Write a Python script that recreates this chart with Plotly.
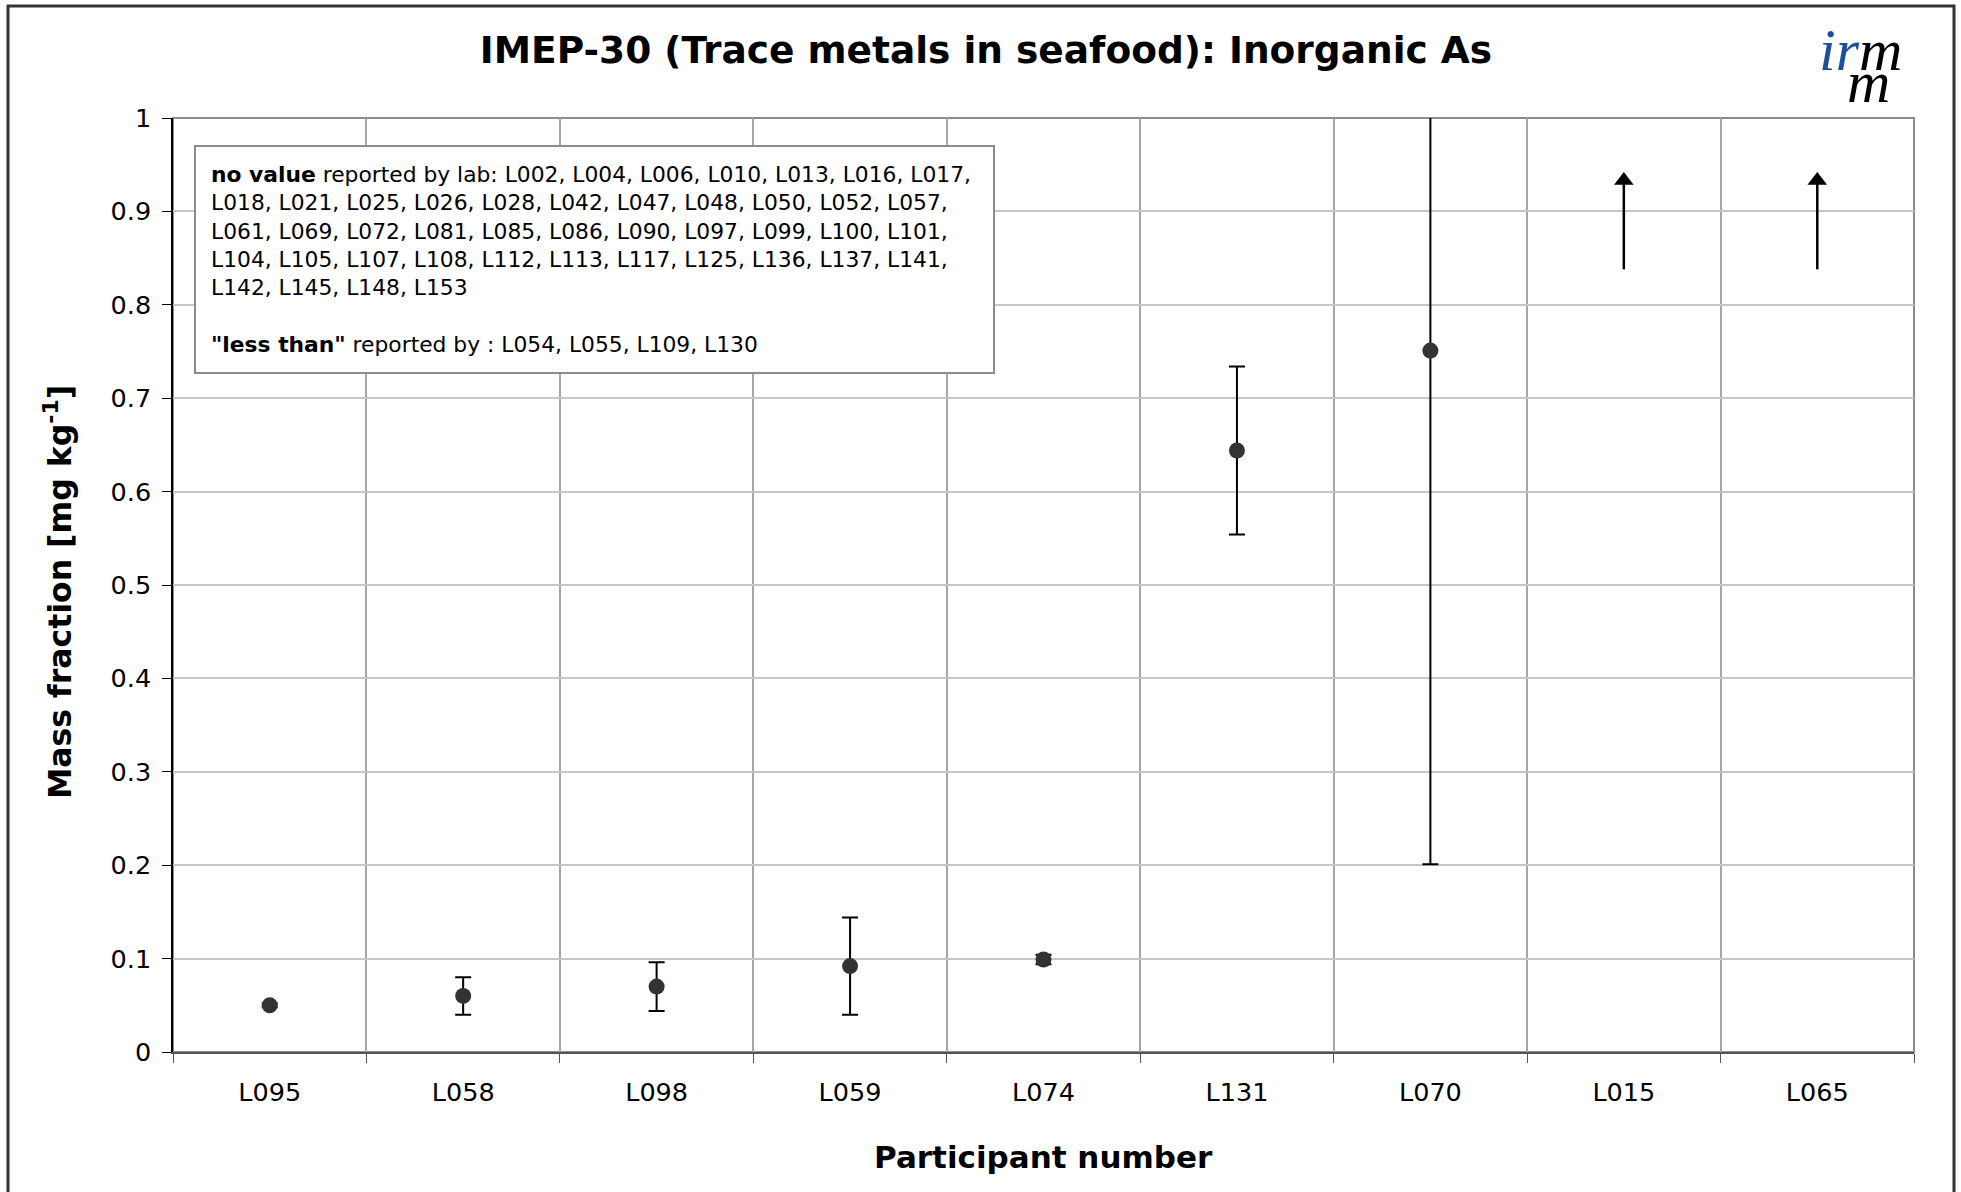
import plotly.graph_objects as go

# ---- data ----
participants = ["L095", "L058", "L098", "L059", "L074", "L131", "L070", "L015", "L065"]
reported_values = [0.050, 0.060, 0.070, 0.092, 0.099, 0.644, 0.751]   # first 7 labs
expanded_unc = [0.002, 0.020, 0.026, 0.052, 0.005, 0.090, 0.550]
offscale_labs = ["L015", "L065"]          # values above 1 mg/kg (shown with arrows)
arrow_tail = 0.838
arrow_head = 0.933
y_ticks = [0, 0.1, 0.2, 0.3, 0.4, 0.5, 0.6, 0.7, 0.8, 0.9, 1]

no_value_labs = ["L002", "L004", "L006", "L010", "L013", "L016", "L017",
                 "L018", "L021", "L025", "L026", "L028", "L042", "L047", "L048", "L050", "L052", "L057",
                 "L061", "L069", "L072", "L081", "L085", "L086", "L090", "L097", "L099", "L100", "L101",
                 "L104", "L105", "L107", "L108", "L112", "L113", "L117", "L125", "L136", "L137", "L141",
                 "L142", "L145", "L148", "L153"]
less_than_labs = ["L054", "L055", "L109", "L130"]

# ---- geometry helpers (page px -> paper) ----
W, H = 1961, 1192
L, R, T, B = 173, 47, 118, 140
PW, PH = W - L - R, H - T - B


def px(x):
    return (x - L) / PW


def py(y):
    return (H - B - y) / PH


xpos = list(range(len(participants)))

fig = go.Figure()
fig.add_trace(go.Scatter(
    x=xpos[:len(reported_values)],
    y=reported_values,
    mode="markers",
    marker=dict(color="#333333", size=16),
    error_y=dict(type="data", array=expanded_unc, visible=True,
                 color="#000000", thickness=2, width=8),
    showlegend=False,
    hoverinfo="skip",
))

# arrows for off-scale results
ax_x, ax_y = [], []
for lab in offscale_labs:
    i = participants.index(lab)
    ax_x += [i, i, None]
    ax_y += [arrow_tail, arrow_head, None]
fig.add_trace(go.Scatter(
    x=ax_x, y=ax_y, mode="lines",
    line=dict(color="#000000", width=2.5),
    showlegend=False, hoverinfo="skip",
))
fig.add_trace(go.Scatter(
    x=[participants.index(l) for l in offscale_labs],
    y=[arrow_head] * len(offscale_labs),
    mode="markers",
    marker=dict(symbol="triangle-up", size=17, color="#000000"),
    showlegend=False, hoverinfo="skip",
))

annotations = []


def wrap(labs, per_line_first, per_line):
    lines, cur = [], []
    cap = per_line_first
    for k, lab in enumerate(labs):
        cur.append(lab)
        if len(cur) == cap:
            lines.append(", ".join(cur) + ("," if k < len(labs) - 1 else ""))
            cur, cap = [], per_line
    if cur:
        lines.append(", ".join(cur))
    return lines


nv_lines = wrap(no_value_labs, 7, 11)
box_text = ("<b>no value</b> reported by lab: " + "<br>".join(nv_lines)
            + "<br> <br><b>\"less than\"</b> reported by : " + ", ".join(less_than_labs))

annotations.append(dict(
    x=px(194), y=py(145), xref="paper", yref="paper",
    xanchor="left", yanchor="top", showarrow=False,
    text=box_text, align="left", valign="top",
    font=dict(family="DejaVu Sans", size=21.8, color="#000000"),
    bgcolor="#ffffff", bordercolor="#8c8c8c", borderwidth=2, borderpad=15,
    width=767, height=195,
))

# axis titles
annotations.append(dict(
    x=px(1043), y=py(1157), xref="paper", yref="paper",
    xanchor="center", yanchor="middle", showarrow=False,
    text="<b>Participant number</b>",
    font=dict(family="DejaVu Sans", size=31, color="#000000"),
))
annotations.append(dict(
    x=px(58), y=py(592), xref="paper", yref="paper",
    xanchor="center", yanchor="middle", showarrow=False, textangle=-90,
    text="<b>Mass fraction [mg kg<sup>-1</sup>]</b>",
    font=dict(family="DejaVu Sans", size=31.5, color="#000000"),
))

# logo
annotations.append(dict(
    x=px(1860), y=py(50), xref="paper", yref="paper",
    xanchor="center", yanchor="middle", showarrow=False,
    text="<i><span style='color:#1a4f9c'>ir</span>m</i>",
    font=dict(family="Liberation Serif", size=60, color="#000000"),
))
annotations.append(dict(
    x=px(1868), y=py(82), xref="paper", yref="paper",
    xanchor="center", yanchor="middle", showarrow=False,
    text="<i>m</i>",
    font=dict(family="Liberation Serif", size=60, color="#000000"),
))

boundaries = [i - 0.5 for i in range(len(participants) + 1)]

fig.update_layout(
    width=W, height=H,
    margin=dict(l=L, r=R, t=T, b=B),
    paper_bgcolor="#ffffff", plot_bgcolor="#ffffff",
    title=dict(text="<b>IMEP-30 (Trace metals in seafood): Inorganic As</b>",
               x=986 / W, y=1 - 50 / H, xref="container", yref="container",
               xanchor="center", yanchor="middle",
               font=dict(family="DejaVu Sans", size=37.5, color="#000000")),
    xaxis=dict(
        range=[-0.5, len(participants) - 0.5],
        tickmode="array", tickvals=xpos, ticktext=participants,
        ticks="", showgrid=False, zeroline=False,
        showline=True, linecolor="#555555", linewidth=2,
        tickfont=dict(family="DejaVu Sans", size=25.5, color="#000000"),
        ticklabelstandoff=16,
        minor=dict(tickmode="array", tickvals=boundaries, showgrid=True,
                   gridcolor="#a6a6a6", gridwidth=2,
                   ticks="outside", ticklen=9, tickcolor="#555555", tickwidth=1),
    ),
    yaxis=dict(
        range=[0, 1], tickmode="array", tickvals=y_ticks,
        ticktext=[f"{v:g}" for v in y_ticks],
        showgrid=True, gridcolor="#c6c6c6", gridwidth=2, zeroline=False,
        showline=True, linecolor="#000000", linewidth=1.5,
        ticks="outside", ticklen=9, tickcolor="#000000",
        tickfont=dict(family="DejaVu Sans", size=25.5, color="#000000"),
        ticklabelstandoff=6,
    ),
    shapes=[
        dict(type="rect", xref="paper", yref="paper", x0=0, x1=1, y0=0, y1=1,
             line=dict(color="#8c8c8c", width=2), layer="below"),
        dict(type="rect", xref="paper", yref="paper",
             x0=px(8), x1=px(1954), y0=py(6), y1=py(1230),
             line=dict(color="#333333", width=3), layer="above"),
    ],
    annotations=annotations,
)

fig.write_html("out.html")
